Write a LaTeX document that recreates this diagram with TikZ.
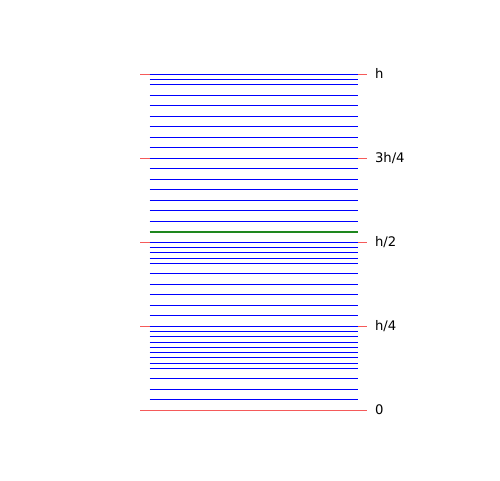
\documentclass[tikz,border=0pt]{standalone}
\usepackage{fontspec}
\setmainfont{DejaVu Sans}
\definecolor{lred}{RGB}{245,90,90}
\definecolor{lgreen}{RGB}{30,135,30}
\begin{document}
\begin{tikzpicture}[x=1pt,y=-1pt,
  redline/.style={lred, line width=1pt},
  blueline/.style={blue, line width=1pt},
  greenline/.style={lgreen, line width=2pt},
  ticklabel/.style={anchor=base west, inner sep=0pt, font=\fontsize{13.2}{16}\selectfont}]
\useasboundingbox (0,0) rectangle (500,480);
% red reference lines at 0, h/4, h/2, 3h/4, h
\foreach \k in {0,16,32,48,64}
  \draw[redline] (140,{410.3-5.25*\k}) -- (367,{410.3-5.25*\k});
% blue level lines
\foreach \k in {2,4,6,8,9,10,11,12,13,14,15,16,18,20,22,24,26,28,29,30,31,32,36,38,40,42,44,46,48,50,52,54,56,58,60,62,63,64}
  \draw[blueline] (149.5,{410.3-5.25*\k}) -- (357.7,{410.3-5.25*\k});
% green line
\draw[greenline] (149.5,{410.3-5.25*34}) -- (357.7,{410.3-5.25*34});
% labels
\node[ticklabel] (l0) at (374.8,{410.3+4.3}) {0};
\node[ticklabel] (l1) at (374.8,{410.3-5.25*16+4.3}) {h/4};
\node[ticklabel] (l2) at (374.8,{410.3-5.25*32+4.3}) {h/2};
\node[ticklabel] (l3) at (374.8,{410.3-5.25*48+4.3}) {3h/4};
\node[ticklabel] (l4) at (374.8,{410.3-5.25*64+4.3}) {h};
\end{tikzpicture}
\end{document}
